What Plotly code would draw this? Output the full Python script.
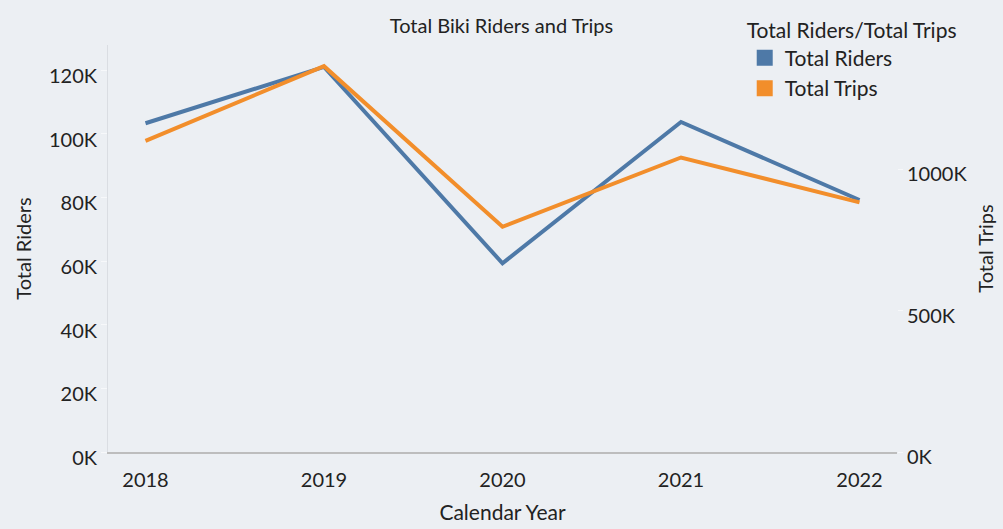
import plotly.graph_objects as go

years = ["2018", "2019", "2020", "2021", "2022"]
total_riders = [103300, 121000, 59300, 103700, 79200]
total_trips = [1101000, 1365000, 797000, 1042000, 883000]

left_ticks = [0, 20000, 40000, 60000, 80000, 100000, 120000]
left_labels = ["0K", "20K", "40K", "60K", "80K", "100K", "120K"]
right_ticks = [0, 500000, 1000000]
right_labels = ["0K", "500K", "1000K"]

BLUE = "#4E79A7"
ORANGE = "#F28E2B"
BG = "#ECEFF3"
FONT = "Lato"

fig = go.Figure()
fig.add_trace(go.Scatter(x=years, y=total_riders, mode="lines", name="Total Riders",
                         line=dict(color=BLUE, width=4), showlegend=False, yaxis="y"))
fig.add_trace(go.Scatter(x=years, y=total_trips, mode="lines", name="Total Trips",
                         line=dict(color=ORANGE, width=4), showlegend=False, yaxis="y2"))
# legend entries with square swatches
fig.add_trace(go.Scatter(x=[None], y=[None], mode="markers", name="Total Riders",
                         marker=dict(symbol="square", color=BLUE, size=16)))
fig.add_trace(go.Scatter(x=[None], y=[None], mode="markers", name="Total Trips",
                         marker=dict(symbol="square", color=ORANGE, size=16)))

fig.update_layout(
    width=1003, height=529,
    paper_bgcolor=BG, plot_bgcolor=BG,
    margin=dict(l=108, r=106, t=45, b=77, autoexpand=False),
    font=dict(family=FONT, color="#222222", size=20),
    title=dict(text="Total Biki Riders and Trips", x=0.5, xanchor="center",
               y=0.951, yanchor="middle", font=dict(size=20, family=FONT, color="#222222")),
    xaxis=dict(type="category", range=[-0.21, 4.21], showline=True, linecolor="#BDBDBD",
               linewidth=2, showgrid=False, ticks="outside", ticklen=9, tickcolor="rgba(0,0,0,0)",
               tickfont=dict(size=20),
               title=dict(text="Calendar Year", font=dict(size=21), standoff=15)),
    yaxis=dict(range=[0, 127900], tickvals=left_ticks, ticktext=left_labels,
               showline=True, linecolor="#DADDE2", linewidth=1, showgrid=False,
               zeroline=False, ticks="outside", ticklen=6, tickcolor="#F7F8FA",
               tickfont=dict(size=20), ticklabelshift=6,
               title=dict(text="Total Riders", font=dict(size=20), standoff=11)),
    yaxis2=dict(range=[0, 1440000], overlaying="y", side="right", tickvals=right_ticks,
                ticktext=right_labels, showline=False, showgrid=False, zeroline=False,
                ticks="outside", ticklen=5, tickcolor="#F7F8FA", tickfont=dict(size=20),
                ticklabelshift=5,
                title=dict(text="Total Trips", font=dict(size=20), standoff=12)),
    legend=dict(x=0.807, y=1.085, xanchor="left", yanchor="top",
                bgcolor="rgba(0,0,0,0)", font=dict(size=21),
                title=dict(text="Total Riders/Total Trips", font=dict(size=21)),
                tracegroupgap=0, itemwidth=30),
)

fig.write_html("out.html", config={"displayModeBar": False},
               post_script="document.body.style.margin='0';")
